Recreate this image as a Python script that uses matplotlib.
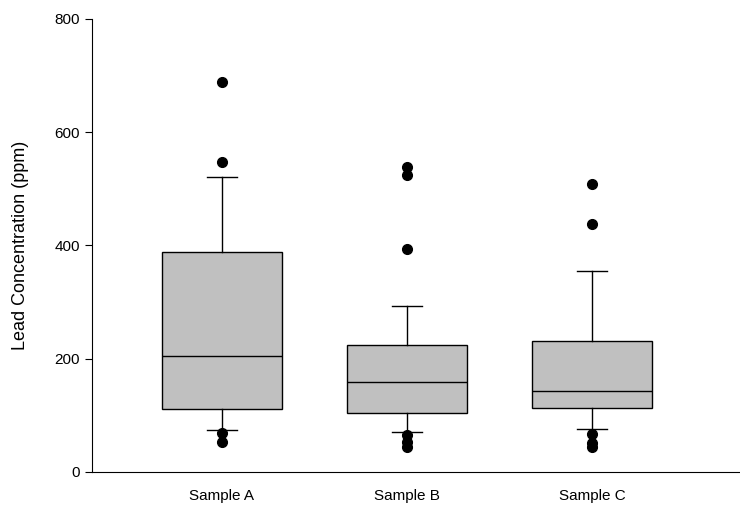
import matplotlib
matplotlib.use("Agg")
import matplotlib.pyplot as plt

plt.rcParams['font.family'] = ['Liberation Sans', 'DejaVu Sans']

labels = ["Sample A", "Sample B", "Sample C"]
q1 = [111, 104, 113]
med = [205, 159, 143]
q3 = [389, 224, 231]
wlo = [74, 71, 76]
whi = [521, 293, 355]
fliers = [[688, 548, 69, 53], [539, 524, 393, 65, 53, 44], [509, 437, 67, 51, 44]]

stats = [dict(label=labels[i], q1=q1[i], med=med[i], q3=q3[i],
              whislo=wlo[i], whishi=whi[i], fliers=fliers[i]) for i in range(3)]

fig = plt.figure(figsize=(7.4, 5.08), dpi=100)
ax = fig.add_axes([0.124, 0.071, 0.876, 0.892])
ax.bxp(stats, positions=[1, 2, 3], widths=0.65, patch_artist=True,
       boxprops=dict(facecolor="#c0c0c0", edgecolor="black", linewidth=1),
       medianprops=dict(color="black", linewidth=1),
       whiskerprops=dict(color="black", linewidth=1),
       capprops=dict(color="black", linewidth=1),
       capwidths=0.16,
       flierprops=dict(marker="o", markerfacecolor="black", markeredgecolor="black", markersize=7))
ax.set_xlim(0.297, 3.8)
ax.set_ylim(0, 800)
ax.set_yticks([0, 200, 400, 600, 800])
ax.set_ylabel("Lead Concentration (ppm)", fontsize=13, labelpad=18)
ax.tick_params(labelsize=11, direction="out", length=5)
ax.tick_params(axis="x", length=0, pad=12)
for s in ["top", "right"]:
    ax.spines[s].set_visible(False)
fig.savefig("out.png", dpi=100)
